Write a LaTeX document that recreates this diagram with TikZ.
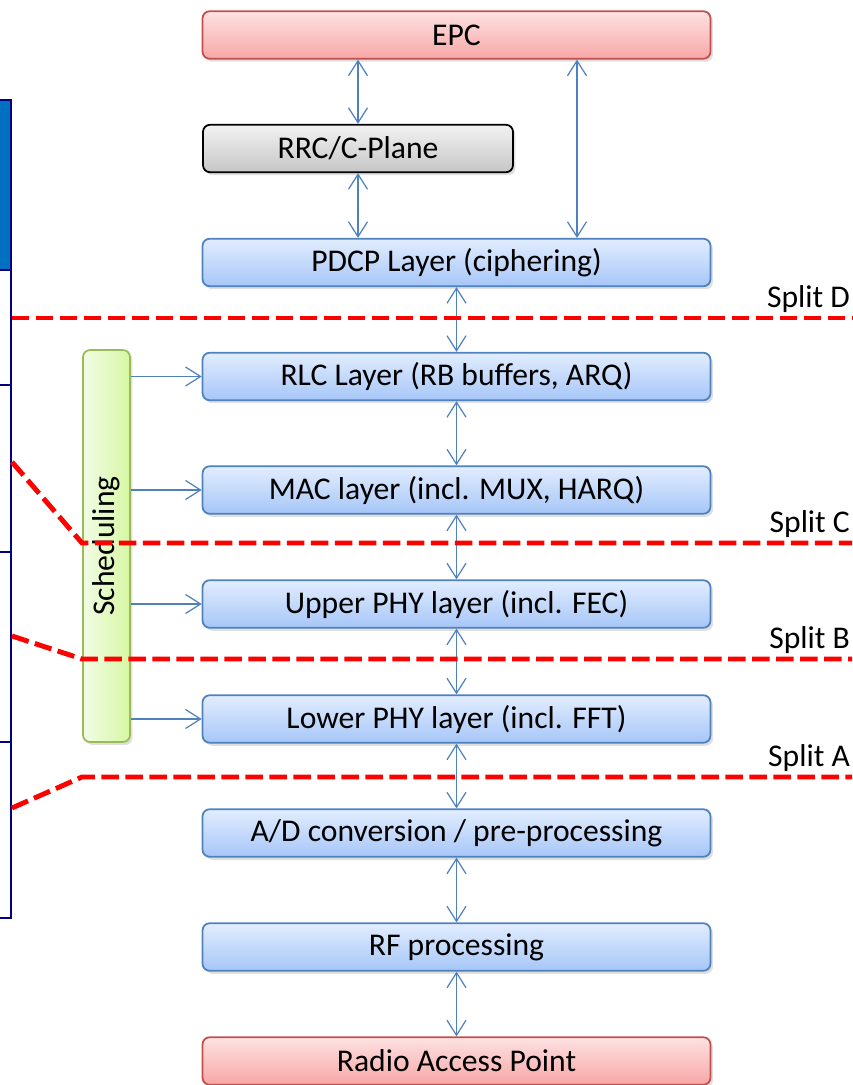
\documentclass[tikz,border=0pt]{standalone}
\usepackage{fontspec}
\setmainfont{Carlito}
\usetikzlibrary{arrows.meta,shadows,shadings}
\definecolor{LayBlue}{HTML}{4F81BD}
\definecolor{LayTop}{HTML}{E2EDFE}
\definecolor{LayBottom}{HTML}{A6C6F8}
\definecolor{LayRed}{HTML}{C0504D}
\definecolor{RedTop}{HTML}{FDE2E2}
\definecolor{RedBottom}{HTML}{F8A6A6}
\definecolor{LayGreen}{HTML}{9BBB59}
\definecolor{GreenLeft}{HTML}{F2FCE4}
\definecolor{GreenRight}{HTML}{D6F7A4}
\definecolor{SplitRed}{HTML}{FF0000}
\definecolor{TabNavy}{HTML}{000080}
\definecolor{TabBlue}{HTML}{0070C0}

\tikzset{
  layer/.style={draw=LayBlue,line width=1pt,rounded corners=4pt,
    minimum width=10.16cm,minimum height=0.95cm,font=\fontsize{18}{20}\selectfont,
    top color=LayTop,bottom color=LayBottom,
    drop shadow={opacity=0.25,shadow xshift=0.5mm,shadow yshift=-0.6mm}},
  endbox/.style={layer,draw=LayRed,top color=RedTop,bottom color=RedBottom},
  ctrlbox/.style={layer,draw=black,minimum width=6.2cm,top color=gray!10,bottom color=gray!45},
  schedbox/.style={draw=LayGreen,line width=1pt,rounded corners=4pt,
    minimum width=0.94cm,minimum height=7.84cm,
    left color=GreenLeft,right color=GreenRight,
    drop shadow={opacity=0.25,shadow xshift=0.5mm,shadow yshift=-0.6mm}},
  link/.style={draw=LayBlue,line width=0.7pt,-{Straight Barb[length=3mm,width=3.8mm]}},
  duplex/.style={link,{Straight Barb[length=3mm,width=3.8mm]}-{Straight Barb[length=3mm,width=3.8mm]}},
  split/.style={draw=SplitRed,line width=2.8pt,dash pattern=on 0.35cm off 0.13cm},
  splitlabel/.style={anchor=south east,inner sep=1pt,font=\fontsize{18}{20}\selectfont}
}

\begin{document}
\begin{tikzpicture}[x=0.02cm,y=-0.02cm]
  \useasboundingbox (0,0) rectangle (852,1085);

  % protocol stack
  \node[endbox] (epc) at (456.5,35) {EPC};
  \node[ctrlbox] (rrc) at (358,148.5) {RRC/C-Plane};
  \node[layer] (pdcp) at (456.5,262.5) {PDCP Layer (ciphering)};
  \node[layer] (rlc) at (456.5,376.5) {RLC Layer (RB buffers, ARQ)};
  \node[layer] (mac) at (456.5,490) {MAC layer (incl. MUX, HARQ)};
  \node[layer] (uphy) at (456.5,604) {Upper PHY layer (incl. FEC)};
  \node[layer] (lphy) at (456.5,719) {Lower PHY layer (incl. FFT)};
  \node[layer] (adc) at (456.5,833) {A/D conversion / pre-processing};
  \node[layer] (rf) at (456.5,947) {RF processing};
  \node[endbox] (rap) at (456.5,1061) {Radio Access Point};

  \node[schedbox] (sched) at (106.5,546) {};
  \node[rotate=90,font=\fontsize{18}{20}\selectfont] at (sched) {Scheduling};

  % vertical links
  \coordinate (bypass) at (577,0);
  \draw[duplex] (rrc.north) -- (rrc.north |- epc.south);
  \draw[duplex] (rrc.south) -- (rrc.south |- pdcp.north);
  \draw[duplex] (epc.south -| bypass) -- (pdcp.north -| bypass);
  \draw[duplex] (pdcp) -- (rlc);
  \draw[duplex] (rlc) -- (mac);
  \draw[duplex] (mac) -- (uphy);
  \draw[duplex] (uphy) -- (lphy);
  \draw[duplex] (lphy) -- (adc);
  \draw[duplex] (adc) -- (rf);
  \draw[duplex] (rf) -- (rap);
  \foreach \lay in {rlc,mac,uphy,lphy}
    \draw[link] (sched.east |- \lay) -- (\lay.west);

  % table at the left edge
  \fill[TabBlue] (-5,100) rectangle (11,270);
  \draw[TabNavy,line width=1.3pt] (-5,100) rectangle (11,918);
  \foreach \yy in {270,385,552,742}
    \draw[TabNavy,line width=1.3pt] (-5,\yy) -- (11,\yy);

  % functional splits
  \coordinate (dL) at (12,318);  \coordinate (dR) at (852,318);
  \coordinate (cL) at (12,462);  \coordinate (cK) at (82,543);  \coordinate (cR) at (852,543);
  \coordinate (bL) at (12,636);  \coordinate (bK) at (82,659);  \coordinate (bR) at (852,659);
  \coordinate (aL) at (12,808);  \coordinate (aK) at (82,777);  \coordinate (aR) at (852,777);
  \draw[split] (dL) -- (dR);
  \draw[split] (cL) -- (cK) -- (cR);
  \draw[split] (bL) -- (bK) -- (bR);
  \draw[split] (aL) -- (aK) -- (aR);
  \node[splitlabel] (splitD) at ([yshift=0.6mm]dR) {Split D};
  \node[splitlabel] (splitC) at ([yshift=0.6mm]cR) {Split C};
  \node[splitlabel] (splitB) at ([yshift=0.6mm]bR) {Split B};
  \node[splitlabel] (splitA) at ([yshift=0.6mm]aR) {Split A};
\end{tikzpicture}
\end{document}
